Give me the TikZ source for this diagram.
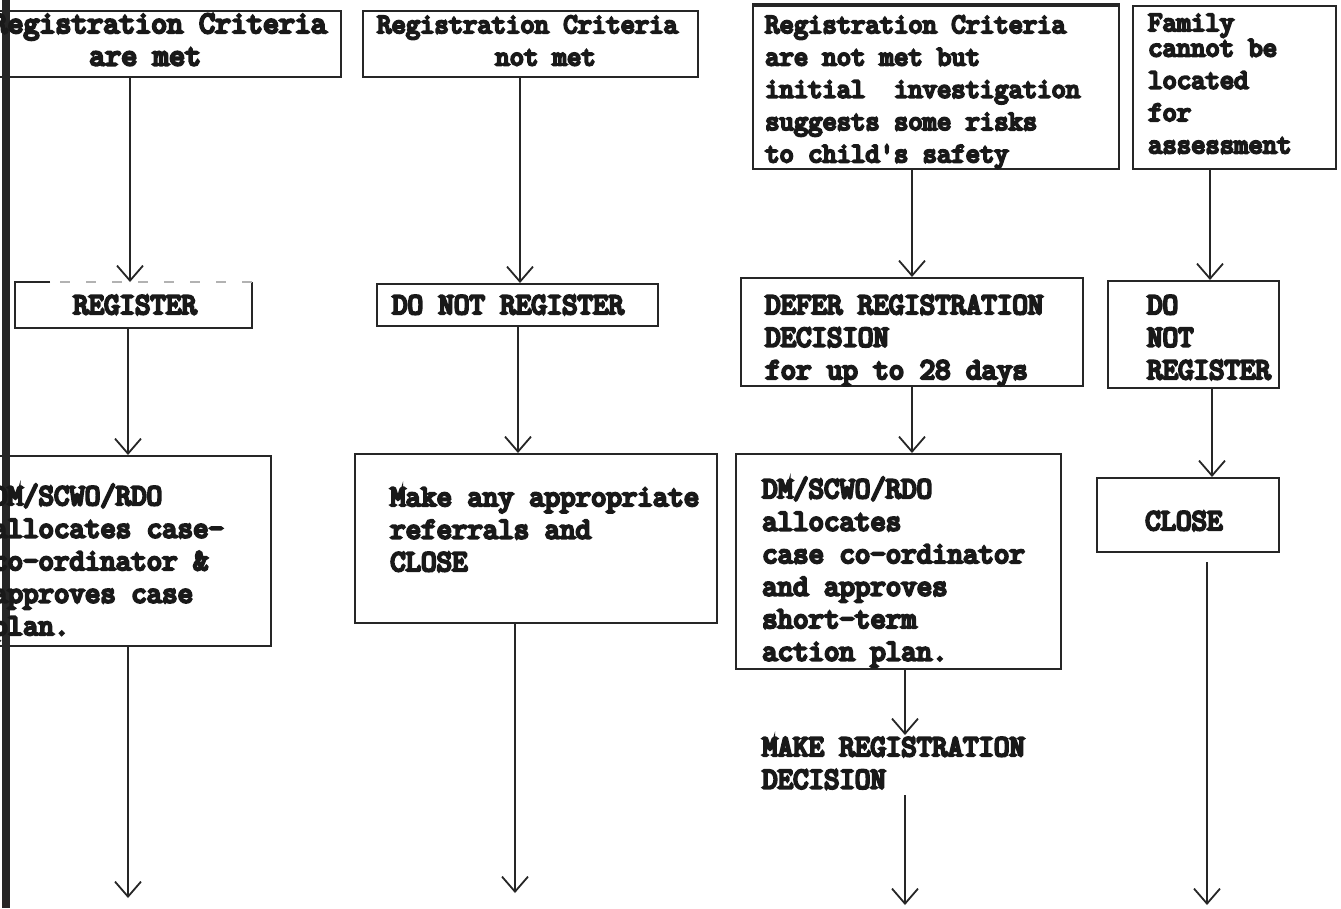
\documentclass[tikz,border=0pt]{standalone}
\usepackage{fontspec}
\newfontfamily\typew{Latin Modern Mono}[FakeBold=8]
\usetikzlibrary{arrows.meta,calc}
\newcommand\txtlines[2][l]{\begin{tabular}[t]{@{}#1@{}}#2\end{tabular}}
\begin{document}
\begin{tikzpicture}[x=1pt,y=-1pt,
  box/.style={draw=black!85, line width=2pt, inner sep=0pt, anchor=north west},
  boxline/.style={draw=black!85, line width=2pt},
  flow/.style={draw=black!85, line width=1.8pt,
    -{Straight Barb[length=15pt,width=26pt,line width=1.8pt]}},
  lbl/.style={anchor=base west, inner sep=0pt, text=black!90,
    font=\typew\fontsize{30}{32.5}\selectfont},
  toplbl/.style={lbl, font=\typew\fontsize{27.8}{32.3}\selectfont},
]
\useasboundingbox (0,0) rectangle (1341,908);
\clip (0,0) rectangle (1341,908);
\fill[white] (0,0) rectangle (1341,908);

% binding edge on the left
\fill[black!85] (2,0) rectangle (10,908);

% ---------- column 1 ----------
\node[box, minimum width=360pt, minimum height=66pt] (t1) at (-20,10) {};
\node[toplbl, anchor=base east, font=\typew\fontsize{31}{32.3}\selectfont]
  (t1txt) at (327,33) {\txtlines[c]{Registration Criteria\\are met\hspace*{28pt}}};

\node[box, draw=none, minimum width=235pt, minimum height=44pt] (r1) at (15,282) {};
\draw[boxline] ($(r1.north west)+(35,0)$) -- (r1.north west) -- (r1.south west)
  -- (r1.south east) -- (r1.north east);
\draw[boxline, black!30, dash pattern=on 10pt off 16pt]
  ($(r1.north west)+(45,0)$) -- (r1.north east);
\node[lbl] (r1txt) at (73,314) {REGISTER};

\node[box, minimum width=285pt, minimum height=190pt] (a1) at (-15,455) {};
\node[lbl] (a1txt) at (-8,505)
  {\txtlines{DM/SCWO/RDO\\allocates case-\\co-ordinator \&\\approves case\\plan.}};

\coordinate (e1) at (128,898);
\draw[flow] (130,0 |- t1.south) -- (130,0 |- r1.north);
\draw[flow] (128,0 |- r1.south) -- (128,0 |- a1.north);
\draw[flow] (128,0 |- a1.south) -- (e1);

% ---------- column 2 ----------
\node[box, minimum width=335pt, minimum height=66pt] (t2) at (362,10) {};
\node[toplbl] (t2txt) at (377,33)
  {\txtlines[c]{Registration Criteria\\\hspace*{36pt}not met}};

\node[box, minimum width=281pt, minimum height=42pt] (r2) at (376,283) {};
\node[lbl] (r2txt) at (392,314) {DO NOT REGISTER};

\node[box, minimum width=362pt, minimum height=169pt] (m2) at (354,453) {};
\node[lbl] (m2txt) at (390,506)
  {\txtlines{Make any appropriate\\referrals and\\CLOSE}};

\coordinate (e2) at (515,893);
\draw[flow] (520,0 |- t2.south) -- (520,0 |- r2.north);
\draw[flow] (518,0 |- r2.south) -- (518,0 |- m2.north);
\draw[flow] (515,0 |- m2.south) -- (e2);

% ---------- column 3 ----------
\node[box, minimum width=366pt, minimum height=163pt] (t3) at (752,5) {};
\draw[boxline, line width=3.5pt] (t3.north west) -- (t3.north east);
\node[toplbl] (t3txt) at (765,33)
  {\txtlines{Registration Criteria\\are not met but\\initial\ \ investigation\\suggests some risks\\to child's safety}};

\node[box, minimum width=342pt, minimum height=108pt] (d3) at (740,277) {};
\node[lbl] (d3txt) at (765,314)
  {\txtlines{DEFER REGISTRATION\\DECISION\\for up to 28 days}};

\node[box, minimum width=325pt, minimum height=215pt] (a3) at (735,453) {};
\node[lbl] (a3txt) at (762,498)
  {\txtlines{DM/SCWO/RDO\\allocates\\case co-ordinator\\and approves\\short-term\\action plan.}};

\node[lbl] (mk3) at (762,756) {\txtlines{MAKE REGISTRATION\\DECISION}};
\coordinate (mk3top) at (905,735);
\coordinate (mk3bot) at (905,795);

\coordinate (e3) at (905,905);
\draw[flow] (912,0 |- t3.south) -- (912,0 |- d3.north);
\draw[flow] (912,0 |- d3.south) -- (912,0 |- a3.north);
\draw[flow] (905,0 |- a3.south) -- (mk3top);
\draw[flow] (mk3bot) -- (e3);

% ---------- column 4 ----------
\node[box, minimum width=203pt, minimum height=163pt] (t4) at (1132,5) {};
\node[toplbl] (t4txt) at (1148,31)
  {\txtlines{Family\\[-7pt]cannot be\\located\\for\\assessment}};

\node[box, minimum width=171pt, minimum height=107pt] (r4) at (1107,280) {};
\node[lbl] (r4txt) at (1147,314) {\txtlines{DO\\NOT\\REGISTER}};

\node[box, minimum width=182pt, minimum height=74pt] (c4) at (1096,477) {};
\node[lbl] (c4txt) at (1145,530) {CLOSE};

\coordinate (e4) at (1207,905);
\draw[flow] (1210,0 |- t4.south) -- (1210,0 |- r4.north);
\draw[flow] (1212,0 |- r4.south) -- (1212,0 |- c4.north);
\draw[flow] ($(1207,0 |- c4.south)+(0,9)$) -- (e4);
\end{tikzpicture}
\end{document}
